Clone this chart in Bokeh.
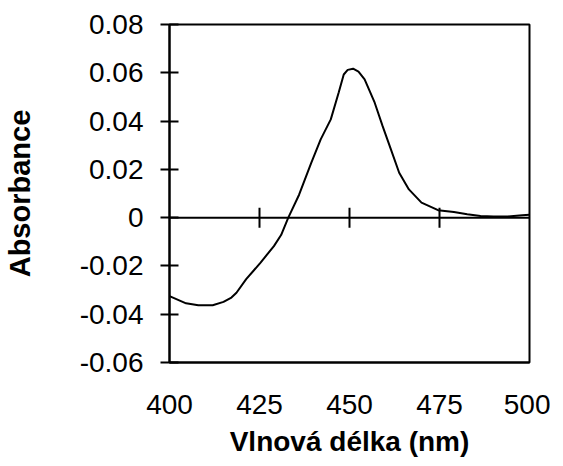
import math
from bokeh.plotting import figure
from bokeh.models import FixedTicker, Span, CustomJSTickFormatter
from bokeh.embed import file_html
from bokeh.resources import INLINE

# Data
wavelength = [400, 404.6, 408, 412, 415, 417.2, 418.6, 421.3, 425.3, 429, 431,
              433, 436, 439.4, 442, 444.8, 447, 448.4, 449.5, 451, 452.5,
              454.2, 457, 459.2, 461.5, 463.8, 466.5, 470, 474.6, 479, 482.7,
              486.4, 490, 494, 498, 500]
absorbance = [-0.0325, -0.0355, -0.0363, -0.0363, -0.0349, -0.0331, -0.0311,
              -0.0255, -0.0186, -0.0118, -0.0072, 0.0, 0.0095, 0.0228, 0.0324,
              0.0407, 0.0518, 0.0593, 0.0612, 0.0617, 0.0605, 0.0573, 0.0476,
              0.0379, 0.0283, 0.0186, 0.0117, 0.0062, 0.0031, 0.0023, 0.0014,
              0.0007, 0.0005, 0.0005, 0.0010, 0.0012]

x_ticks = [400, 425, 450, 475, 500]
zero_line_ticks = [425, 450, 475]
y_ticks = [-0.06, -0.04, -0.02, 0.0, 0.02, 0.04, 0.06, 0.08]

FONT = "Liberation Sans"

p = figure(width=550, height=466, x_range=(400, 500), y_range=(-0.06, 0.08),
           output_backend="svg", toolbar_location=None,
           min_border_left=160, min_border_right=21, min_border_top=24,
           min_border_bottom=104)
p.background_fill_color = "white"
p.border_fill_color = "white"
p.grid.visible = False
p.outline_line_color = "black"
p.outline_line_width = 2

# curve
p.line(wavelength, absorbance, line_color="black", line_width=2)

# zero line with crossing ticks
p.add_layout(Span(location=0, dimension="width", line_color="black", line_width=2))
p.scatter(x=zero_line_ticks, y=[0] * len(zero_line_ticks), marker="dash",
          angle=math.pi / 2, size=20, line_color="black", line_width=2)

# y axis
ya = p.yaxis[0]
ya.ticker = FixedTicker(ticks=y_ticks)
ya.formatter = CustomJSTickFormatter(code="return Math.abs(tick) < 1e-9 ? '0' : tick.toFixed(2);")
ya.minor_tick_line_color = None
ya.major_tick_in = 9
ya.major_tick_out = 9
ya.major_tick_line_width = 2
ya.axis_line_width = 2
ya.major_label_standoff = 17
ya.major_label_text_font = FONT
ya.major_label_text_font_size = "28px"
ya.major_label_text_color = "black"
ya.axis_label = "Absorbance"
ya.axis_label_text_font = FONT
ya.axis_label_text_font_style = "bold"
ya.axis_label_text_font_size = "29px"
ya.axis_label_text_color = "black"
ya.axis_label_standoff = 41

# x axis
xa = p.xaxis[0]
xa.ticker = FixedTicker(ticks=x_ticks)
xa.minor_tick_line_color = None
xa.major_tick_line_color = None
xa.major_tick_in = 0
xa.major_tick_out = 0
xa.axis_line_width = 2
xa.major_label_standoff = 32
xa.major_label_text_font = FONT
xa.major_label_text_font_size = "28px"
xa.major_label_text_color = "black"
xa.axis_label = "Vlnová délka (nm)"
xa.axis_label_text_font = FONT
xa.axis_label_text_font_style = "bold"
xa.axis_label_text_font_size = "28px"
xa.axis_label_text_color = "black"
xa.axis_label_standoff = 9

open("out.html", "w").write(file_html(p, INLINE))
